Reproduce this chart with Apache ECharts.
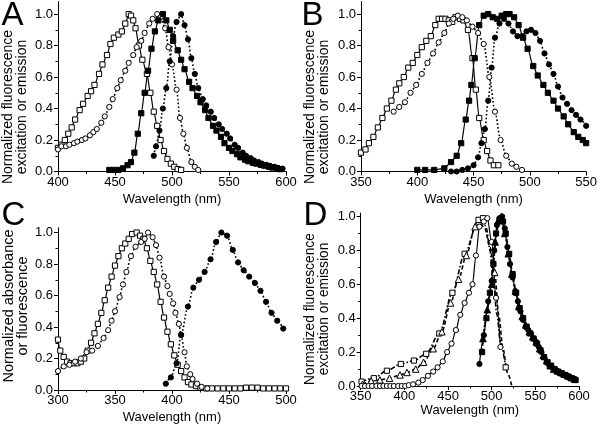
<!DOCTYPE html>
<html>
<head>
<meta charset="utf-8">
<script src="https://cdn.jsdelivr.net/npm/echarts@6.0.0/dist/echarts.min.js"></script>
<style>html,body{margin:0;padding:0;background:#fff;}#chart{width:600px;height:428px;}</style>
</head>
<body>
<div id="chart"></div>
<script>
// ---------- Panel A (nm, normalized) ----------
const aExcSquares = [[400,.15],[403,.17],[406,.20],[409,.24],[412,.28],[415,.33],[419,.39],[422,.43],[426,.48],[429,.51],[432,.55],[436,.62],[439,.68],[443,.74],[446,.81],[449,.85],[453,.87],[456,.89],[459,.94],[462,1.0],[464,.99],[466,.96],[468,.91],[471,.8],[474,.71],[478,.62],[481,.5],[484,.38],[487,.29],[490,.2],[493,.13],[496,.08],[499,.05],[502,.03],[505,.015],[508,.01]];
const aExcCircles = [[400,.14],[403,.16],[407,.16],[410,.17],[414,.18],[417,.19],[421,.20],[424,.21],[428,.23],[431,.25],[434,.27],[438,.31],[441,.35],[445,.41],[448,.46],[452,.53],[455,.58],[459,.64],[462,.69],[466,.74],[469,.79],[473,.83],[476,.88],[480,.94],[483,.97],[487,1.0],[490,.98],[494,.91],[497,.79],[500,.68],[504,.52],[507,.34],[510,.24],[513,.15],[517,.06],[520,.03],[523,.01]];
const aEmSquares = [[445,.01],[449,.01],[453,.01],[457,.02],[461,.04],[464,.06],[467,.12],[470,.24],[473,.37],[476,.5],[479,.64],[482,.78],[485,.89],[488,.96],[492,1.0],[495,.96],[498,.9],[501,.83],[505,.77],[508,.71],[511,.65],[515,.57],[518,.53],[522,.48],[525,.44],[529,.39],[532,.34],[536,.29],[539,.26],[543,.22],[546,.18],[550,.15],[553,.13],[557,.11],[560,.09],[564,.075],[567,.065],[571,.055],[574,.05],[578,.042],[581,.037],[585,.03],[588,.025],[592,.02],[595,.015]];
const aEmCircles = [[484,.1],[486,.16],[489,.26],[492,.4],[495,.53],[498,.7],[501,.86],[504,.95],[508,1.0],[511,.93],[514,.84],[517,.72],[520,.62],[523,.53],[527,.46],[530,.42],[534,.38],[537,.34],[541,.30],[544,.27],[548,.24],[551,.21],[555,.17],[558,.15],[562,.12],[565,.1],[569,.085],[572,.07],[576,.06],[579,.05],[583,.042],[586,.036],[590,.03],[593,.023],[597,.018]];

// ---------- Panel B ----------
const bExcSquares = [[350,.12],[354,.14],[357,.18],[361,.22],[365,.28],[369,.34],[373,.40],[377,.45],[381,.52],[384,.56],[388,.60],[392,.66],[396,.69],[400,.74],[404,.79],[408,.83],[412,.86],[416,.93],[419,.97],[422,.97],[425,.97],[428,.96],[431,.95],[434,.98],[438,.97],[441,.96],[445,.9],[449,.72],[452,.52],[455,.34],[459,.2],[462,.13],[465,.07],[468,.04],[472,.04]];
const bExcCircles = [[379,.38],[384,.41],[389,.44],[394,.5],[399,.55],[404,.62],[409,.69],[414,.75],[419,.82],[424,.88],[428,.94],[432,.97],[436,.99],[440,.98],[444,.96],[449,.92],[454,.88],[459,.81],[464,.6],[469,.38],[474,.2],[479,.1],[484,.05],[488,.03],[493,.01]];
const bEmSquares = [[400,.01],[407,.01],[415,.01],[424,.02],[430,.06],[435,.1],[439,.18],[443,.33],[446,.45],[448,.55],[451,.72],[455,.93],[459,.99],[463,1.0],[467,.98],[471,.97],[475,.99],[479,1.0],[482,1.0],[486,.98],[490,.93],[494,.85],[498,.78],[503,.67],[507,.61],[512,.55],[516,.5],[521,.45],[525,.4],[530,.35],[534,.3],[539,.25],[543,.22],[547,.2],[550,.18]];
const bEmCircles = [[430,0],[435,0],[440,.01],[445,.02],[450,.04],[454,.09],[457,.18],[460,.27],[463,.45],[466,.66],[469,.85],[473,.94],[477,.97],[481,.94],[485,.89],[489,.86],[493,.86],[497,.89],[501,.9],[505,.88],[509,.83],[513,.75],[517,.68],[521,.62],[525,.54],[529,.47],[533,.43],[537,.39],[541,.36],[545,.33],[550,.29]];

// ---------- Panel C ----------
const cAbsSquares = [[300,.32],[302,.25],[305,.21],[308,.18],[311,.17],[314,.17],[317,.17],[320,.18],[323,.2],[326,.25],[329,.3],[332,.36],[335,.42],[338,.49],[341,.57],[344,.65],[347,.72],[350,.79],[353,.85],[356,.9],[359,.93],[362,.96],[365,.99],[369,1.0],[372,.98],[375,.96],[378,.9],[381,.82],[384,.75],[387,.67],[390,.56],[393,.46],[396,.37],[399,.29],[402,.22],[405,.16],[408,.12],[411,.08],[414,.05],[417,.035],[421,.025],[425,.015],[430,.01],[435,.01],[440,.01],[445,.01],[450,.01],[455,.01],[460,.01],[465,.015],[470,.015],[475,.015],[480,.01],[485,.01],[490,.01],[495,.01],[500,.01]];
const cExcCircles = [[300,.12],[305,.15],[310,.16],[315,.18],[320,.2],[325,.24],[330,.25],[335,.28],[340,.33],[344,.38],[347,.44],[350,.5],[354,.59],[357,.67],[360,.75],[364,.85],[368,.91],[373,.94],[376,.96],[379,1.0],[383,.97],[386,.92],[389,.84],[393,.72],[396,.66],[398,.61],[401,.55],[403,.49],[406,.42],[408,.35],[411,.24],[413,.15],[416,.1],[418,.07],[422,.04],[426,.02],[431,.01]];
const cEmCircles = [[394.6,.04],[399,.08],[404,.17],[408,.35],[414,.53],[418.7,.65],[423.7,.7],[428.6,.75],[433.8,.83],[438.7,.94],[443.3,1.0],[448.3,.98],[453.3,.89],[458,.81],[462.9,.76],[467.7,.72],[472.7,.68],[477.6,.63],[482.5,.56],[487.3,.49],[492.3,.44],[497.6,.39]];

// ---------- Panel D ----------
const dExcSquares = [[351,.026],[365,.046],[380,.09],[396,.13],[411,.15],[425,.19],[440,.31],[455,.55],[469,.78],[485,.98],[490,.99],[516,.11]];
const dExcSquaresLine = [[494,.93],[498,.8],[502,.62],[506,.42],[510,.26]];
const dExcTriangles = [[352,.01],[362,.03],[372,.036],[383,.046],[395,.065],[403,.08],[413,.1],[422,.14],[433,.22],[443,.32],[453,.49],[462,.63],[471,.77],[481,.94],[503.5,.67]];
const dExcTrianglesLine = [[487,.96],[492,.93],[498,.82],[508,.42],[513,.22],[518,.08],[523,0]];
const dExcCircles = [[351,0],[355,0],[359,0],[363,0],[368,0],[372,0],[376,0],[380,0],[384,0],[388,0],[393,0],[397,0],[401,0],[405,.005],[410,.01],[416,.02],[421,.035],[427,.06],[433,.085],[438,.11],[444,.145],[449,.2],[454,.25],[459,.33],[464,.42],[469,.49],[474,.55],[478,.6],[482,.77],[486,.94],[491,.97],[495,.99],[500,.85],[505,.52],[510,.23]];
const dEmCircles = [[486,.13],[491,.3],[496,.5],[500,.62],[503,.8],[506,.95],[509,.99],[512,1.0],[515,.93],[518,.82],[521,.72],[524,.64],[527,.56],[530,.5],[533,.44],[536,.39],[539,.35],[542,.33],[545,.31],[548,.28],[551,.26],[554,.23],[557,.2],[560,.17],[563,.14],[566,.12],[569,.11],[572,.1],[575,.09],[578,.08],[581,.07],[584,.065],[587,.06],[590,.05],[593,.045],[596,.04]];
const dEmTriangles = [[490,.28],[495,.45],[500,.6],[504,.85],[508,.98],[511,1.0],[515,.9],[519,.78],[523,.66],[527,.56],[531,.47],[535,.41],[539,.36],[543,.32],[547,.29],[551,.26],[555,.22],[559,.18],[563,.15],[567,.12],[571,.1],[575,.09],[579,.08],[583,.07],[587,.06],[591,.05],[595,.04]];
const dEmSquares = [[489,.2],[494,.4],[498,.55],[502,.72],[505,.9],[509,.98],[513,.97],[516,.9],[520,.78],[524,.66],[528,.55],[532,.46],[536,.4],[540,.35],[544,.31],[548,.28],[552,.25],[556,.21],[560,.17],[564,.14],[568,.12],[572,.1],[576,.085],[580,.075],[584,.065],[588,.055],[592,.045],[596,.035]];

// ---------- Axes / texts ----------
const xRanges = [[400,600],[350,550],[300,500],[350,600]];
const yTicks = [0, 0.2, 0.4, 0.6, 0.8, 1.0];
const panelLetters = ['A','B','C','D'];
const yTitles = ['Normalized fluorescence\nexcitation or emission','Normalized fluorescence\nexcitation or emission','Normalized absorbance\nor fluorescence','Normalized fluorescence\nexcitation or emission'];
const xTitle = 'Wavelength (nm)';

// ---------- layout ----------
const FONT = '"Liberation Sans", Arial, sans-serif';
const grids = [
  {left:58, top:1.5, width:228, height:170},
  {left:361, top:1.5, width:226, height:170},
  {left:58, top:227.8, width:228, height:162.2},
  {left:360.7, top:213.1, width:218.3, height:172.9}
];
const yMax = [1.08, 1.08, 1.03, 1.02];
const xNameGap = [21, 21, 21, 18];

function xAxis(i) {
  return {gridIndex:i, type:'value', min:xRanges[i][0], max:xRanges[i][1], interval:50,
    axisLine:{show:true, onZero:false, lineStyle:{color:'#000', width:1}},
    axisTick:{show:true, length:4, lineStyle:{color:'#000', width:1}},
    minorTick:{show:true, splitNumber:2, length:2.5, lineStyle:{color:'#000', width:1}},
    splitLine:{show:false}, minorSplitLine:{show:false},
    axisLabel:{color:'#000', fontSize:13, fontFamily:FONT, margin:4},
    name:xTitle, nameLocation:'middle', nameGap:xNameGap[i],
    nameTextStyle:{color:'#000', fontSize:13, fontFamily:FONT}
  };
}
function yAxis(i) {
  return {gridIndex:i, type:'value', min:0, max:yMax[i], interval:0.2,
    axisLine:{show:true, onZero:false, lineStyle:{color:'#000', width:1}},
    axisTick:{show:true, length:4, customValues:yTicks, lineStyle:{color:'#000', width:1}},
    minorTick:{show:true, splitNumber:2, length:2.5, lineStyle:{color:'#000', width:1}},
    splitLine:{show:false}, minorSplitLine:{show:false},
    axisLabel:{color:'#000', fontSize:13, fontFamily:FONT, margin:5, customValues:yTicks,
      formatter: v => v.toFixed(1)}
  };
}

const DOT = [1.6, 2.2], DASH = [4, 2.5], DASHDOT = [5, 2, 1.6, 2];
function ser(g, pts, sym, filled, dash, linePts) {
  let data = pts.slice();
  if (linePts) {
    data = data.concat(linePts.map(p => ({value:p, symbol:'none'})));
    data.sort((a, b) => (a.value ? a.value[0] : a[0]) - (b.value ? b.value[0] : b[0]));
  }
  return {
    type:'line', xAxisIndex:g, yAxisIndex:g, data:data,
    symbol:sym, symbolSize: sym === 'triangle' ? 6.5 : 5.2, showAllSymbol:true,
    smooth:0.3, smoothMonotone:'x',
    lineStyle:{color:'#000', width: dash === 'solid' ? 1.2 : 1.6, type:dash},
    itemStyle:{color: filled ? '#000' : '#fff', borderColor:'#000', borderWidth:1},
    emphasis:{disabled:true}, silent:true
  };
}

const graphics = [];
const letterPos = [[1.5,16],[301.5,16],[1.5,216],[303.5,216]];
panelLetters.forEach((t, i) => graphics.push({type:'text', x:letterPos[i][0], y:letterPos[i][1],
  style:{text:t, fontSize:33, fontFamily:FONT, fill:'#000', verticalAlign:'middle'}}));
const titlePos = [[15.5,107,14],[317,107,14],[15.5,306,14.5],[317.5,309,13.8]];
yTitles.forEach((t, i) => graphics.push({type:'text', x:titlePos[i][0], y:titlePos[i][1], rotation:Math.PI/2,
  style:{text:t, fontSize:titlePos[i][2], lineHeight:14, fontFamily:FONT, fill:'#000', align:'center', verticalAlign:'middle'}}));

const chart = echarts.init(document.getElementById('chart'), null, {renderer:'canvas'});
chart.setOption({
  animation:false,
  backgroundColor:'#fff',
  textStyle:{fontFamily:FONT, color:'#000'},
  grid: grids,
  xAxis: [0,1,2,3].map(xAxis),
  yAxis: [0,1,2,3].map(yAxis),
  graphic: graphics,
  series: [
    ser(0, aExcSquares, 'rect', false, 'solid'),
    ser(0, aExcCircles, 'circle', false, DOT),
    ser(0, aEmSquares, 'rect', true, 'solid'),
    ser(0, aEmCircles, 'circle', true, DOT),
    ser(1, bExcSquares, 'rect', false, 'solid'),
    ser(1, bExcCircles, 'circle', false, DOT),
    ser(1, bEmSquares, 'rect', true, 'solid'),
    ser(1, bEmCircles, 'circle', true, DOT),
    ser(2, cAbsSquares, 'rect', false, 'solid'),
    ser(2, cExcCircles, 'circle', false, DOT),
    ser(2, cEmCircles, 'circle', true, DOT),
    ser(3, dExcSquares, 'rect', false, DASHDOT, dExcSquaresLine),
    ser(3, dExcTriangles, 'triangle', false, DASH, dExcTrianglesLine),
    ser(3, dExcCircles, 'circle', false, 'solid'),
    ser(3, dEmSquares, 'rect', true, DASH),
    ser(3, dEmTriangles, 'triangle', true, DOT),
    ser(3, dEmCircles, 'circle', true, 'solid')
  ]
});
</script>
</body>
</html>
